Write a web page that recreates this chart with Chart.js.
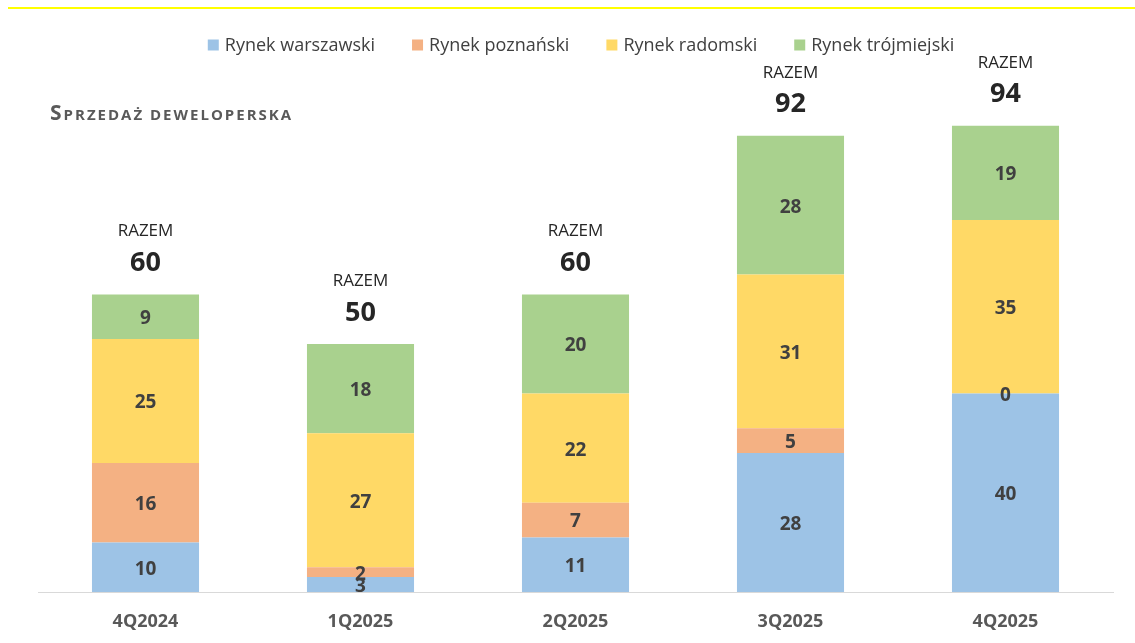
<!DOCTYPE html>
<html>
<head>
<meta charset="utf-8">
<script src="https://cdn.jsdelivr.net/npm/chart.js@4/dist/chart.umd.min.js"></script>
<style>
    html, body { margin: 0; padding: 0; background: #ffffff; }
    #wrap { width: 1135px; height: 643px; position: relative; }
</style>
</head>
<body>
<div id="wrap"><canvas id="salesChart"></canvas></div>
<script>
// dane
const quarters = ['4Q2024', '1Q2025', '2Q2025', '3Q2025', '4Q2025'];
const warszawa = [10, 3, 11, 28, 40];
const poznan = [16, 2, 7, 5, 0];
const radom = [25, 27, 22, 31, 35];
const trojmiasto = [9, 18, 20, 28, 19];
const totals = [60, 50, 60, 92, 94];

const seriesNames = ['Rynek warszawski', 'Rynek poznański', 'Rynek radomski', 'Rynek trójmiejski'];
const seriesColors = ['#9dc3e6', '#f4b183', '#ffd966', '#a9d18e'];
const FONT = '"Open Sans", "Noto Sans", sans-serif';

// dekoracje: żółta linia, tytuł, legenda, etykiety wartości i sumy
const decorPlugin = {
    id: 'decor',
    afterDraw(chart) {
        const ctx = chart.ctx;
        const xs = chart.scales.x;
        const ys = chart.scales.y;
        ctx.save();

        // żółta linia u góry
        ctx.strokeStyle = '#ffff00';
        ctx.lineWidth = 2;
        ctx.beginPath();
        ctx.moveTo(8, 8);
        ctx.lineTo(1135, 8);
        ctx.stroke();

        // tytuł (kapitaliki)
        ctx.fillStyle = '#595959';
        ctx.textBaseline = 'alphabetic';
        ctx.textAlign = 'left';
        ctx.letterSpacing = '2px';
        ctx.font = 'bold 21px ' + FONT;
        ctx.fillText('S', 50, 120);
        const w0 = ctx.measureText('S').width;
        ctx.font = 'bold 15px ' + FONT;
        ctx.fillText('PRZEDAŻ DEWELOPERSKA', 50 + w0, 120);
        ctx.letterSpacing = '0px';

        // legenda
        ctx.font = '18px ' + FONT;
        ctx.textBaseline = 'middle';
        const box = 11, gap = 6, spacing = 37;
        const widths = seriesNames.map(n => box + gap + ctx.measureText(n).width);
        const total = widths.reduce((a, b) => a + b, 0) + spacing * (widths.length - 1);
        let lx = 581 - total / 2;
        seriesNames.forEach((name, i) => {
            ctx.fillStyle = seriesColors[i];
            ctx.fillRect(lx, 45 - box / 2, box, box);
            ctx.fillStyle = '#404040';
            ctx.fillText(name, lx + box + gap, 46);
            lx += widths[i] + spacing;
        });

        // etykiety segmentów
        ctx.textAlign = 'center';
        ctx.font = 'bold 19px ' + FONT;
        ctx.fillStyle = '#404040';
        chart.data.datasets.forEach((ds, di) => {
            const meta = chart.getDatasetMeta(di);
            meta.data.forEach((bar, i) => {
                const y = (bar.y + bar.base) / 2 + 2;
                ctx.fillText(String(ds.data[i]), bar.x, y);
            });
        });

        // sumy
        quarters.forEach((q, i) => {
            const cx = xs.getPixelForValue(i);
            const top = ys.getPixelForValue(totals[i]);
            ctx.fillStyle = '#262626';
            ctx.font = '17px ' + FONT;
            ctx.fillText('RAZEM', cx, top - 63);
            ctx.font = 'bold 27px ' + FONT;
            ctx.fillText(String(totals[i]), cx, top - 31);
        });
        ctx.restore();
    }
};

const ctx = document.getElementById('salesChart').getContext('2d');
const salesChart = new Chart(ctx, {
    type: 'bar',
    data: {
        labels: quarters,
        datasets: [
            { label: seriesNames[0], data: warszawa, backgroundColor: seriesColors[0] },
            { label: seriesNames[1], data: poznan, backgroundColor: seriesColors[1] },
            { label: seriesNames[2], data: radom, backgroundColor: seriesColors[2] },
            { label: seriesNames[3], data: trojmiasto, backgroundColor: seriesColors[3] }
        ]
    },
    options: {
        responsive: true,
        maintainAspectRatio: false,
        animation: false,
        layout: {
            padding: { top: 96, left: 38, right: 22, bottom: 0 }
        },
        datasets: {
            bar: { barPercentage: 1, categoryPercentage: 0.498, borderWidth: 0 }
        },
        scales: {
            x: {
                stacked: true,
                grid: { display: false },
                border: { display: true, color: '#d9d9d9', width: 1 },
                ticks: {
                    color: '#595959',
                    font: { family: FONT, size: 18, weight: 'bold' },
                    padding: 11
                },
                afterFit: function(scale) { scale.height = 51; }
            },
            y: {
                stacked: true,
                display: false,
                min: 0,
                max: 100
            }
        },
        plugins: {
            legend: { display: false },
            tooltip: { enabled: false }
        }
    },
    plugins: [decorPlugin]
});
</script>
</body>
</html>
